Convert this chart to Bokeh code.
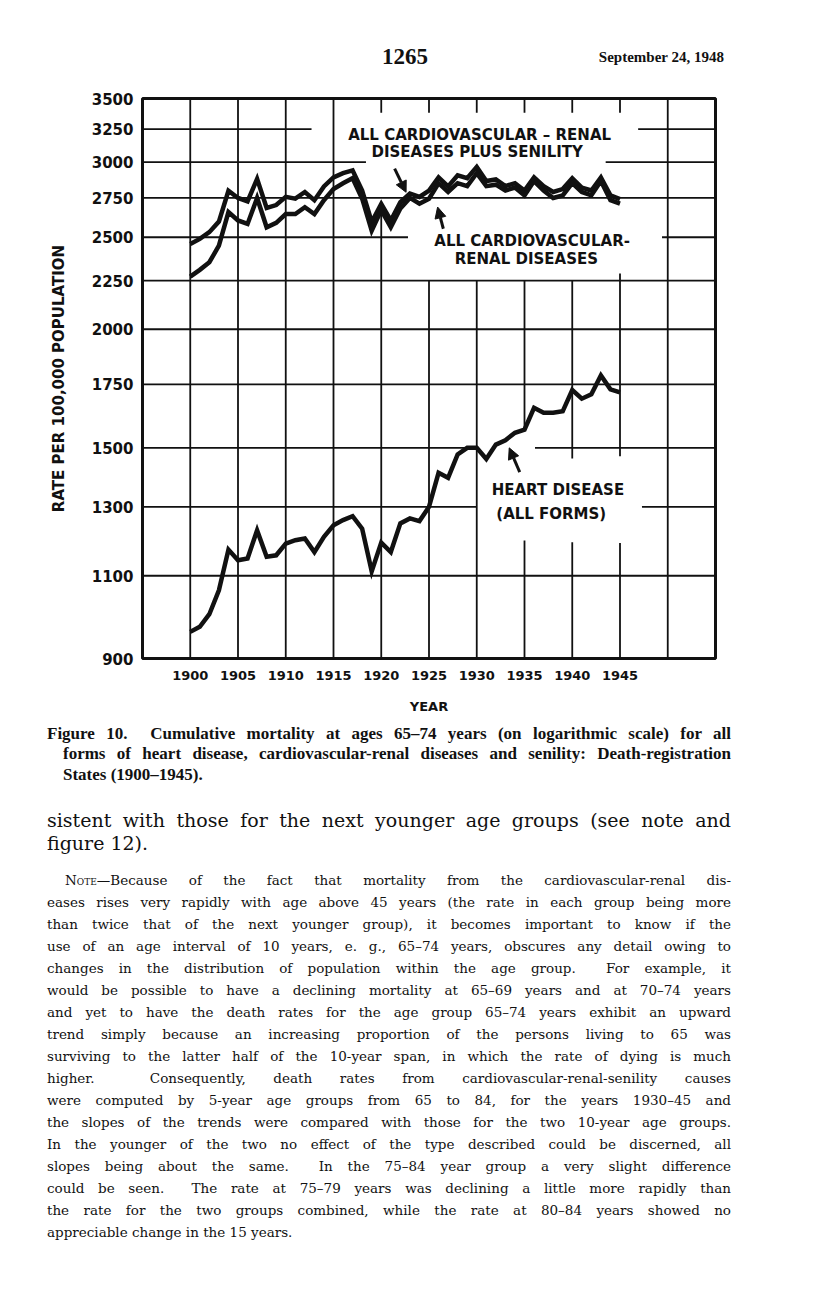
from bokeh.plotting import figure
from bokeh.models import (Range1d, FixedTicker, NumeralTickFormatter, Label,
                          Arrow, NormalHead, Div)
from bokeh.layouts import column
from bokeh.embed import file_html
from bokeh.resources import INLINE

# ---------------- data ----------------
years = list(range(1900, 1946))
cardio_renal_senility = [2460, 2490, 2531, 2597, 2798, 2750, 2727, 2880, 2684, 2703,
                         2757, 2745, 2790, 2735, 2828, 2890, 2920, 2940, 2800, 2594,
                         2710, 2604, 2722, 2780, 2757, 2800, 2890, 2828, 2905, 2885,
                         2965, 2865, 2876, 2830, 2850, 2800, 2890, 2830, 2790, 2810,
                         2885, 2820, 2800, 2890, 2767, 2742]
cardio_renal = [2272, 2310, 2353, 2449, 2657, 2604, 2582, 2750, 2561, 2589,
                2645, 2645, 2689, 2645, 2735, 2810, 2850, 2885, 2745, 2540,
                2670, 2561, 2680, 2750, 2712, 2745, 2850, 2790, 2850, 2830,
                2920, 2830, 2840, 2800, 2820, 2767, 2865, 2800, 2750, 2767,
                2850, 2790, 2767, 2865, 2735, 2712]
heart_disease = [960, 972, 1002, 1062, 1172, 1142, 1147, 1228, 1152, 1156,
                 1189, 1199, 1204, 1165, 1209, 1243, 1259, 1271, 1233, 1112,
                 1192, 1165, 1249, 1264, 1256, 1300, 1412, 1395, 1476, 1500,
                 1500, 1460, 1512, 1528, 1556, 1568, 1653, 1633, 1633, 1639,
                 1726, 1690, 1708, 1788, 1729, 1716]

x_ticks = [1900, 1905, 1910, 1915, 1920, 1925, 1930, 1935, 1940, 1945]
y_ticks = [900, 1100, 1300, 1500, 1750, 2000, 2250, 2500, 2750, 3000, 3250, 3500]

# grid drawn by hand on the printed chart (broken around the captions)
grid_h = [  # (value, from year, to year)
    (3250, 1895, 1912.7), (3250, 1946.9, 1955),
    (3000, 1895, 1918.4), (3000, 1943.5, 1955),
    (2750, 1895, 1955),
    (2500, 1895, 1922.8), (2500, 1949.4, 1955),
    (2250, 1895, 1955), (2000, 1895, 1955), (1750, 1895, 1955),
    (1500, 1895, 1930), (1500, 1936.1, 1955),
    (1300, 1895, 1930), (1300, 1947.3, 1955),
    (1100, 1895, 1955),
]
grid_v = [  # (year, from value, to value)
    (1900, 900, 3500), (1905, 900, 3500), (1910, 900, 3500), (1915, 900, 3500),
    (1920, 3382, 3500), (1920, 900, 2670),
    (1925, 3382, 3500), (1925, 900, 2250),
    (1930, 3382, 3500), (1930, 900, 2250),
    (1935, 3382, 3500), (1935, 1568, 2250), (1935, 900, 1198),
    (1940, 3382, 3500), (1940, 1462, 2250), (1940, 900, 1193),
    (1945, 3382, 3500), (1945, 1470, 2289), (1945, 900, 1191),
    (1950, 900, 3500),
]

INK = "#111111"
SANS = "DejaVu Sans"

# ---------------- page header ----------------
header_html = (
    '<div style="position:relative;width:800px;height:80px;background:white;color:#111">'
    '<div style="position:absolute;left:355px;width:100px;top:43px;text-align:center;'
    'font-family:\'Liberation Serif\';font-weight:bold;font-size:23px;line-height:28px">1265</div>'
    '<div style="position:absolute;left:524px;width:200px;top:47px;text-align:right;'
    'font-family:\'Liberation Serif\';font-weight:bold;font-size:15px;line-height:20px">'
    'September 24, 1948</div></div>')
header_div = Div(text=header_html, width=800, height=80, margin=0)

# ---------------- chart ----------------
p = figure(width=800, height=640, x_range=Range1d(1895, 1955),
           y_range=Range1d(900, 3500), y_axis_type="log",
           output_backend="svg", toolbar_location=None,
           min_border_left=142, min_border_right=85,
           min_border_top=18, min_border_bottom=62, margin=0)
p.background_fill_color = "white"
p.border_fill_color = "white"
p.outline_line_color = INK
p.outline_line_width = 3
p.xgrid.visible = False
p.ygrid.visible = False

# grid
p.segment(x0=[g[1] for g in grid_h], x1=[g[2] for g in grid_h],
          y0=[g[0] for g in grid_h], y1=[g[0] for g in grid_h],
          line_color=INK, line_width=1.8)
p.segment(x0=[g[0] for g in grid_v], x1=[g[0] for g in grid_v],
          y0=[g[1] for g in grid_v], y1=[g[2] for g in grid_v],
          line_color=INK, line_width=1.8)

# series
for series in (cardio_renal_senility, cardio_renal, heart_disease):
    p.line(years, series, line_color=INK, line_width=4.5, line_join="miter")

# axes
for ax in (p.xaxis[0], p.yaxis[0]):
    ax.axis_line_color = None
    ax.major_tick_line_color = None
    ax.minor_tick_line_color = None
    ax.major_label_text_font = SANS
    ax.major_label_text_font_style = "bold"
    ax.major_label_text_color = INK
    ax.axis_label_text_font = SANS
    ax.axis_label_text_font_style = "bold"
    ax.axis_label_text_color = INK
p.xaxis.ticker = FixedTicker(ticks=x_ticks)
p.xaxis.major_label_text_font_size = "13px"
p.xaxis.major_label_standoff = 6
p.xaxis.axis_label = "YEAR"
p.xaxis.axis_label_text_font_size = "13px"
p.xaxis.axis_label_standoff = 16
p.yaxis.ticker = FixedTicker(ticks=y_ticks)
p.yaxis.formatter = NumeralTickFormatter(format="0")
p.yaxis.major_label_text_font_size = "15px"
p.yaxis.major_label_standoff = 3
p.yaxis.axis_label = "RATE PER 100,000 POPULATION"
p.yaxis.axis_label_text_font_size = "15px"
p.yaxis.axis_label_standoff = 21

def lab(x, y, text, size="15px"):
    p.add_layout(Label(x=x, y=y, text=text, text_font=SANS, text_font_style="bold",
                       text_font_size=size, text_color=INK, text_align="center",
                       text_baseline="middle"))

# in-chart captions
lab(1930.3, 3200, "ALL CARDIOVASCULAR – RENAL")
lab(1930.05, 3071, "DISEASES PLUS SENILITY")
lab(1935.8, 2479, "ALL CARDIOVASCULAR-")
lab(1935.2, 2374, "RENAL DISEASES")
lab(1938.5, 1353, "HEART DISEASE")
lab(1937.8, 1279, "(ALL FORMS)")

# arrows
for xs, ys, xe, ye in [(1921.4, 2952, 1922.6, 2788),
                       (1926.5, 2552, 1925.9, 2690),
                       (1934.5, 1414, 1933.4, 1500)]:
    p.add_layout(Arrow(end=NormalHead(size=11, fill_color=INK, line_color=INK),
                       x_start=xs, y_start=ys, x_end=xe, y_end=ye,
                       line_color=INK, line_width=3))

# ---------------- text below the figure ----------------
DIV_TOP = 720  # page y of the div's top edge
lines = []

def line(text, cy, left, width, size, family, weight="normal", justify=True, lh=20):
    top = cy - DIV_TOP - lh / 2
    al = "justify" if justify else "left"
    lines.append(
        f'<div style="position:absolute;top:{top:.1f}px;left:{left}px;width:{width}px;'
        f'white-space:nowrap;font-family:\'{family}\';font-size:{size}px;font-weight:{weight};'
        f'line-height:{lh}px;text-align:{al};text-align-last:{al};color:#111">{text}</div>')

CAP = "Liberation Serif"
BODY = "DejaVu Serif"
line("Figure 10.&nbsp; Cumulative mortality at ages 65–74 years (on logarithmic scale) for all",
     734, 47, 684, 17, CAP, "bold")
line("forms of heart disease, cardiovascular-renal diseases and senility: Death-registration",
     754, 63, 668, 17, CAP, "bold")
line("States (1900–1945).", 775, 63, 668, 17, CAP, "bold", justify=False)

line("sistent with those for the next younger age groups (see note and",
     820, 47, 684, 19, BODY, lh=24)
line("figure 12).", 843, 47, 684, 19, BODY, justify=False, lh=24)

note = [
    '<span style="font-variant:small-caps">Note</span>—Because of the fact that mortality from the cardiovascular-renal dis-',
    "eases rises very rapidly with age above 45 years (the rate in each group being more",
    "than twice that of the next younger group), it becomes important to know if the",
    "use of an age interval of 10 years, e. g., 65–74 years, obscures any detail owing to",
    "changes in the distribution of population within the age group.&nbsp; For example, it",
    "would be possible to have a declining mortality at 65–69 years and at 70–74 years",
    "and yet to have the death rates for the age group 65–74 years exhibit an upward",
    "trend simply because an increasing proportion of the persons living to 65 was",
    "surviving to the latter half of the 10-year span, in which the rate of dying is much",
    "higher.&nbsp; Consequently, death rates from cardiovascular-renal-senility causes",
    "were computed by 5-year age groups from 65 to 84, for the years 1930–45 and",
    "the slopes of the trends were compared with those for the two 10-year age groups.",
    "In the younger of the two no effect of the type described could be discerned, all",
    "slopes being about the same.&nbsp; In the 75–84 year group a very slight difference",
    "could be seen.&nbsp; The rate at 75–79 years was declining a little more rapidly than",
    "the rate for the two groups combined, while the rate at 80–84 years showed no",
    "appreciable change in the 15 years.",
]
for i, t in enumerate(note):
    left = 65 if i == 0 else 47
    line(t, 880 + 22 * i, left, 731 - left, 13.5, BODY, justify=(i < len(note) - 1))

html = ('<div style="position:relative;width:800px;height:560px;background:white">'
        + "".join(lines) + "</div>")
text_div = Div(text=html, width=800, height=560, margin=0)

layout = column(header_div, p, text_div, spacing=0)
open("out.html", "w").write(file_html(layout, INLINE, title="Figure 10"))
